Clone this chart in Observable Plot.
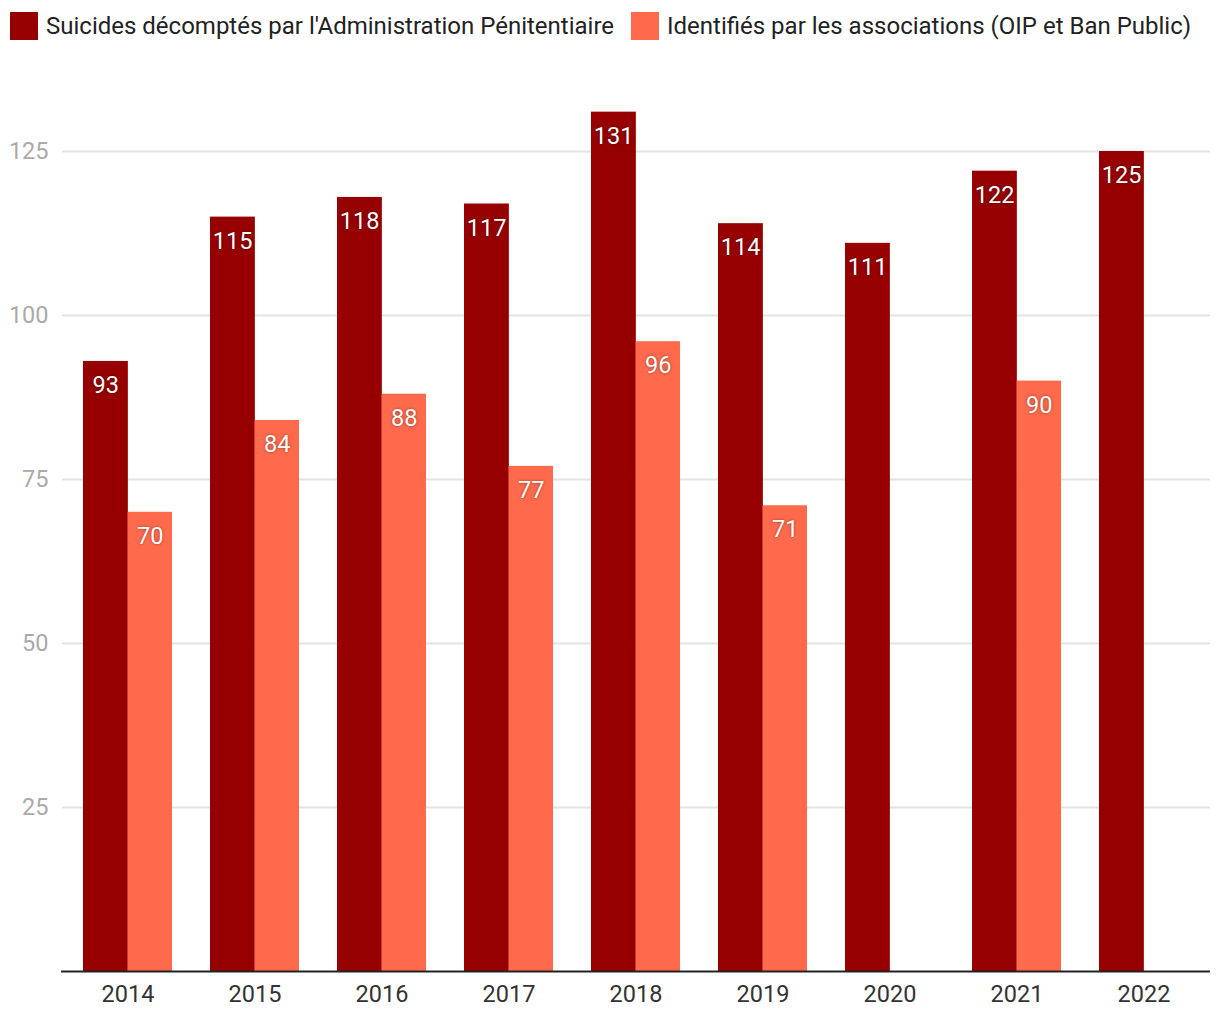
<!DOCTYPE html>
<html>
<head>
<meta charset="utf-8">
<script src="https://cdn.jsdelivr.net/npm/d3@7"></script>
<script src="https://cdn.jsdelivr.net/npm/@observablehq/plot@0.6"></script>
<style>
  html, body { margin: 0; padding: 0; background: #fff; font-family: Roboto, "Noto Sans", sans-serif; }
  #legend { height: 52px; position: relative; }
  .item { position: absolute; top: 12px; display: flex; align-items: center; font-size: 24px; color: #222; white-space: nowrap; line-height: 28px; }
  .sw { width: 28px; height: 28px; margin-right: 8px; }
  .vals text { text-shadow: 0 0 3px rgba(0,0,0,0.45); }
</style>
</head>
<body>
<div id="legend"></div>
<div id="chart"></div>
<script>
const years = ["2014","2015","2016","2017","2018","2019","2020","2021","2022"];
const adminValues = [93, 115, 118, 117, 131, 114, 111, 122, 125];
const assocValues = [70, 84, 88, 77, 96, 71, null, 90, null];
const seriesNames = ["Suicides décomptés par l'Administration Pénitentiaire", "Identifiés par les associations (OIP et Ban Public)"];
const seriesColors = ["#960000", "#ff6a4c"];
const yTicks = [25, 50, 75, 100, 125];

const adminData = [];
const assocData = [];
years.forEach((y, i) => {
  if (adminValues[i] != null) adminData.push({year: y, series: seriesNames[0], value: adminValues[i]});
  if (assocValues[i] != null) assocData.push({year: y, series: seriesNames[1], value: assocValues[i]});
});

const legend = document.getElementById("legend");
const legendX = [10, 631];
seriesNames.forEach((n, i) => {
  const d = document.createElement("div");
  d.className = "item";
  d.style.left = legendX[i] + "px";
  d.innerHTML = `<div class="sw" style="background:${seriesColors[i]}"></div><span>${n}</span>`;
  legend.appendChild(d);
});

const width = 1220, marginLeft = 61, marginRight = 11;
const pInner = 0.3, pOuter = 0.15;
const step = (width - marginLeft - marginRight) / (years.length - pInner + 2 * pOuter);
const half = step * (1 - pInner) / 2;

const chart = Plot.plot({
  width,
  height: 968,
  marginLeft,
  marginRight,
  marginTop: 33.4,
  marginBottom: 49,
  style: {fontFamily: "Roboto, sans-serif", fontSize: "23.5px", background: "#fff"},
  x: {domain: years, paddingInner: pInner, paddingOuter: pOuter, label: null},
  y: {domain: [0, 135], ticks: yTicks, label: null},
  color: {domain: seriesNames, range: seriesColors},
  marks: [
    Plot.gridY(yTicks, {stroke: "#e3e3e3", strokeOpacity: 1, strokeWidth: 2, insetLeft: 1, insetRight: -1}),
    Plot.axisY(yTicks, {tickSize: 0, tickPadding: 13, fill: "#aaa", fontSize: 23.5, label: null}),
    Plot.axisX({tickSize: 0, tickPadding: 14, fill: "#333", fontSize: 23.5, label: null}),
    Plot.barY(adminData, {x: "year", y: "value", fill: "series", insetRight: half - 0.5}),
    Plot.barY(assocData, {x: "year", y: "value", fill: "series", insetLeft: half}),
    Plot.text(adminData, {x: "year", y: "value", text: d => String(d.value), fill: "white", fontSize: 23.5, dx: -half / 2, dy: 24, className: "vals"}),
    Plot.text(assocData, {x: "year", y: "value", text: d => String(d.value), fill: "white", fontSize: 23.5, dx: half / 2, dy: 24, className: "vals"}),
    Plot.ruleY([0], {stroke: "#222", strokeWidth: 2, insetRight: -1})
  ]
});
document.getElementById("chart").appendChild(chart);
</script>
</body>
</html>
